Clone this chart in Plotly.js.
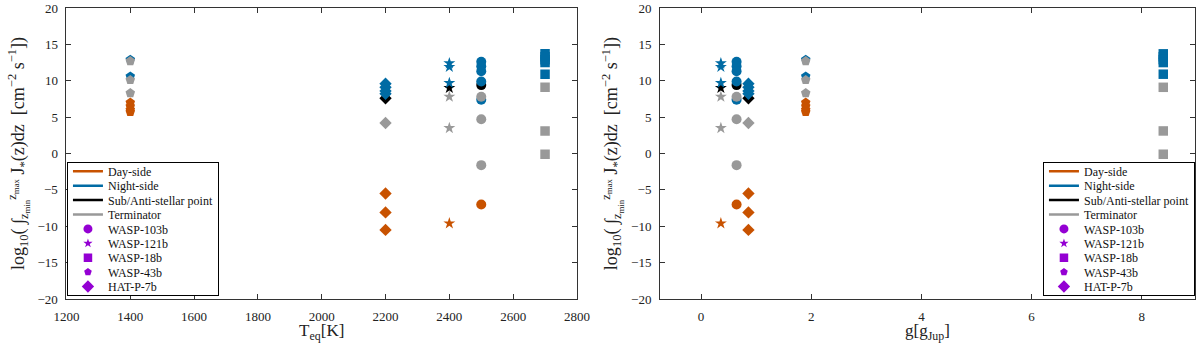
<!DOCTYPE html>
<html><head><meta charset="utf-8">
<script src="https://cdn.plot.ly/plotly-3.0.1.min.js"></script>
<style>html,body{margin:0;padding:0;background:#fff}#chart{width:1200px;height:343px}</style>
</head><body><div id="chart"></div>
<script>
// ---- data ----
const planets = ['WASP-103b', 'WASP-121b', 'WASP-18b', 'WASP-43b', 'HAT-P-7b'];
const symbols = ['circle', 'star', 'square', 'pentagon', 'diamond'];
const teq = [2500, 2400, 2700, 1400, 2200];
const gravity = [0.645, 0.36, 8.39, 1.9, 0.86];
const categories = ['Day-side', 'Night-side', 'Sub/Anti-stellar point', 'Terminator'];
const daySide = [[-7.0], [-9.6], [], [7.0, 6.5, 6.0, 5.7], [-5.5, -8.1, -10.5]];
const nightSide = [[12.6, 12.0, 11.3, 9.9, 7.4], [12.4, 11.9, 9.7], [13.7, 13.3, 12.9, 12.5, 10.9], [12.9, 10.6], [9.6, 9.1, 8.6, 8.2]];
const subAnti = [[9.4], [9.0], [], [], [7.6]];
const terminator = [[7.8, 4.7, -1.6], [7.8, 3.5], [9.1, 3.1, -0.1], [12.7, 10.1, 8.3], [4.2]];
const yTicks = [-20, -15, -10, -5, 0, 5, 10, 15, 20];
const teqTicks = [1200, 1400, 1600, 1800, 2000, 2200, 2400, 2600, 2800];
const gTicks = [0, 2, 4, 6, 8];

// ---- styling ----
const catColors = ['#C85200', '#006BA4', '#000000', '#999999'];
const purple = '#9400D3';
const symSize = {circle: 10, star: 9, square: 9.5, pentagon: 10, diamond: 9.5};
const legSize = {circle: 9, star: 7, square: 8.5, pentagon: 8, diamond: 9.5};
const catValues = [daySide, nightSide, subAnti, terminator];
const drawOrder = [0, 2, 1, 3];

function buildTrace(values, color, xs, xa, ya) {
  const x = [], y = [], sym = [], size = [];
  values.forEach((vals, p) => vals.forEach(v => {
    x.push(xs[p]); y.push(v); sym.push(symbols[p]); size.push(symSize[symbols[p]]);
  }));
  return {type: 'scatter', mode: 'markers', x, y, xaxis: xa, yaxis: ya,
    marker: {color, symbol: sym, size, opacity: 1, line: {width: 0}}, showlegend: false, hoverinfo: 'skip'};
}

const traces = [];
drawOrder.forEach(c => {
  traces.push(buildTrace(catValues[c], catColors[c], teq, 'x', 'y'));
  traces.push(buildTrace(catValues[c], catColors[c], gravity, 'x2', 'y2'));
});
[['x', 'y', 'legend'], ['x2', 'y2', 'legend2']].forEach(([xa, ya, lg]) => {
  categories.forEach((name, c) => traces.push({type: 'scatter', mode: 'lines', x: [null], y: [null],
    xaxis: xa, yaxis: ya, name, legend: lg, line: {color: catColors[c], width: 2.5}, hoverinfo: 'skip'}));
  planets.forEach((name, p) => traces.push({type: 'scatter', mode: 'markers', x: [null], y: [null],
    xaxis: xa, yaxis: ya, name, legend: lg,
    marker: {color: purple, symbol: symbols[p], size: legSize[symbols[p]], opacity: 1, line: {width: 0}}, hoverinfo: 'skip'}));
});

const axisCommon = {showline: true, linecolor: '#333', linewidth: 1, mirror: 'allticks', ticks: 'inside',
  ticklen: 5, tickcolor: '#333', showgrid: false, zeroline: false, ticklabelstandoff: 5,
  tickfont: {size: 13, color: '#222'}};
const yTitle = 'log<sub>10</sub>( ∫<sub>z<sub>min</sub></sub><sup>z<sub>max</sub></sup> J<sub>*</sub>(z)dz  [cm<sup>−2</sup> s<sup>−1</sup>])';
const legCommon = {bgcolor: '#fff', bordercolor: '#000', borderwidth: 1, font: {size: 12, color: '#111'},
  y: 0.0103, yanchor: 'bottom', tracegroupgap: 0};

const layout = {
  width: 1200, height: 343, margin: {l: 0, r: 0, t: 8, b: 44},
  paper_bgcolor: '#fff', plot_bgcolor: '#fff',
  font: {family: '"Liberation Serif", serif', size: 13, color: '#222'},
  xaxis: Object.assign({}, axisCommon, {domain: [0.0554, 0.4808], range: [1200, 2800], tickvals: teqTicks,
    anchor: 'y', title: {text: 'T<sub>eq</sub>[K]', font: {size: 17}, standoff: 4}}),
  yaxis: Object.assign({}, axisCommon, {domain: [0, 1], range: [-20, 20], tickvals: yTicks, anchor: 'x',
    title: {text: yTitle, font: {size: 18}, standoff: 8}}),
  xaxis2: Object.assign({}, axisCommon, {domain: [0.55, 0.9958], range: [-0.745, 8.965], tickvals: gTicks,
    anchor: 'y2', title: {text: 'g[g<sub>Jup</sub>]', font: {size: 17}, standoff: 4}}),
  yaxis2: Object.assign({}, axisCommon, {domain: [0, 1], range: [-20, 20], tickvals: yTicks, anchor: 'x2',
    title: {text: yTitle, font: {size: 18}, standoff: 8}}),
  legend: Object.assign({}, legCommon, {x: 0.0558, xanchor: 'left'}),
  legend2: Object.assign({}, legCommon, {x: 0.9958, xanchor: 'right'})
};

const TR = /translate\(\s*([-\d.e]+)[ ,]+([-\d.e]+)\s*\)/;
function compressLegends() {
  const step = 14.4, lift = 6;
  const legs = Array.from(document.querySelectorAll('g.infolayer > g')).filter(g =>
    /^legend\d*$/.test((g.getAttribute('class') || '').split(' ')[0]));
  legs.forEach(leg => {
    const items = Array.from(leg.querySelectorAll('g.traces'));
    const bg = leg.querySelector('rect.bg');
    if (!items.length || !bg) return;
    const pos = items.map(it => {
      const m = TR.exec(it.getAttribute('transform') || '');
      return m ? [parseFloat(m[1]), parseFloat(m[2])] : [0, 0];
    });
    const first = pos[0][1];
    const lastOld = pos[pos.length - 1][1];
    const t0 = items[0].querySelector('text.legendtext');
    const tx = t0 ? t0.getAttribute('x') : null;
    items.forEach((it, i) => {
      it.setAttribute('transform', 'translate(' + pos[0][0] + ',' + (first - lift + i * step) + ')');
      const t = it.querySelector('text.legendtext');
      if (t && tx !== null) { t.setAttribute('x', tx); t.setAttribute('text-anchor', 'start'); }
    });
    const shrink = lastOld - (first + (items.length - 1) * step) + 2 * lift;
    const h = parseFloat(bg.getAttribute('height'));
    bg.setAttribute('height', h - shrink);
    const lm = TR.exec(leg.getAttribute('transform') || '');
    if (lm) leg.setAttribute('transform', 'translate(' + lm[1] + ',' + (parseFloat(lm[2]) + shrink) + ')');
  });
}

Plotly.newPlot('chart', traces, layout, {staticPlot: true, displayModeBar: false}).then(compressLegends);
</script></body></html>
